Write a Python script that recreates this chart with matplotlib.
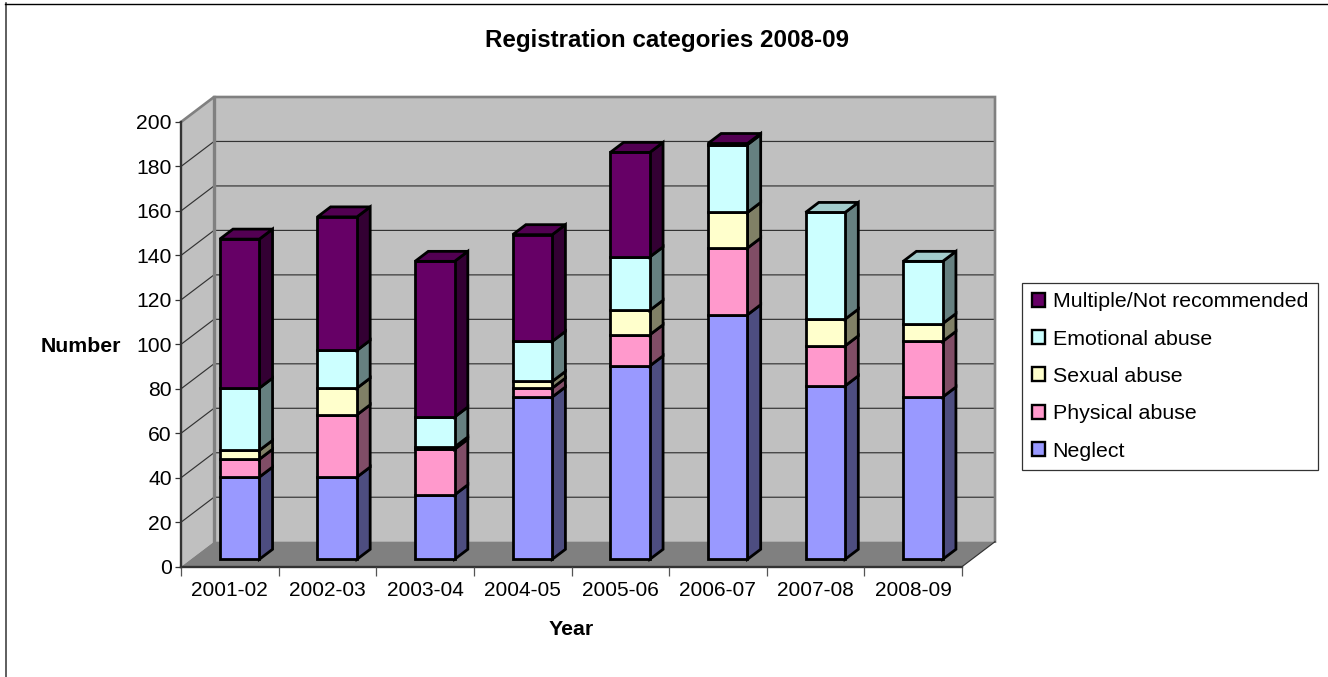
import matplotlib
matplotlib.use("Agg")
import matplotlib.pyplot as plt
from matplotlib.patches import Polygon, Patch
from matplotlib.lines import Line2D

years = ["2001-02", "2002-03", "2003-04", "2004-05", "2005-06", "2006-07", "2007-08", "2008-09"]
neglect = [37, 37, 29, 73, 87, 110, 78, 73]
physical = [8, 28, 20.5, 4, 14, 30, 18, 25]
sexual = [4, 12, 1, 3, 11, 16, 12, 8]
emotional = [28, 17, 13.5, 18, 24, 30.5, 48, 28]
multiple = [67, 60, 70, 48, 47, 0.5, 0, 0]
series_names = ["Neglect", "Physical abuse", "Sexual abuse", "Emotional abuse", "Multiple/Not recommended"]
series_values = [neglect, physical, sexual, emotional, multiple]
face = ["#9999FF", "#FF99CC", "#FFFFCC", "#CCFFFF", "#660066"]
side = ["#4D4D80", "#804D66", "#808066", "#668080", "#330033"]
top = ["#7A7ACC", "#CC7AA3", "#CCCCA3", "#A3CCCC", "#520052"]

W, H, DPI = 1328, 677, 100
plt.rcParams["font.family"] = ["Liberation Sans", "DejaVu Sans"]
fig = plt.figure(figsize=(W / DPI, H / DPI), dpi=DPI)
fig.patch.set_facecolor("white")

# front plane of the 3-D box, in pixels
L, R, B, T = 181, 962, 566.7, 122
ax = fig.add_axes([L / W, 1 - B / H, (R - L) / W, (B - T) / H])
ax.set_xlim(0, len(years))
ax.set_ylim(0, 200)
ax.patch.set_visible(False)

# depth projection: full depth moves 33 px right and 25 px up
ux = 33 / ((R - L) / len(years))
uy = 25 / ((B - T) / 200)


def P(x, y, d=0.0):
    return (x + d * ux, y + d * uy)


def poly(pts, fc, ec="none", lw=0.0, z=1, join="miter"):
    ax.add_patch(Polygon(pts, closed=True, facecolor=fc, edgecolor=ec, linewidth=lw,
                         zorder=z, clip_on=False, joinstyle=join))


n = len(years)
# walls and floor
poly([P(0, 0), P(0, 0, 1), P(0, 200, 1), P(0, 200)], "#C0C0C0", z=1)
poly([P(0, 0, 1), P(n, 0, 1), P(n, 200, 1), P(0, 200, 1)], "#C0C0C0", z=1)
poly([P(0, 0), P(n, 0), P(n, 0, 1), P(0, 0, 1)], "#808080", z=1.2)

grid_vals = list(range(20, 200, 20))
for v in grid_vals:
    ax.plot(*zip(P(0, v), P(0, v, 1), P(n, v, 1)), color="#333333", lw=0.85, zorder=1.1,
            clip_on=False, solid_joinstyle="miter")
ax.plot(*zip(P(0, 200), P(0, 200, 1), P(n, 200, 1), P(n, 0, 1)), color="#808080", lw=1.9,
        zorder=1.3, clip_on=False, solid_joinstyle="miter")
ax.plot(*zip(P(0, 0, 1), P(0, 200, 1)), color="#808080", lw=2.4, zorder=1.3, clip_on=False)
ax.plot(*zip(P(n, 0), P(n, 0, 1)), color="#333333", lw=0.85, zorder=1.3, clip_on=False)

# bars
bar_w = 0.405
d0, d1 = 0.296, 0.696
EC, LW = "black", 2.0
z = 2.0
for i in range(n):
    x0 = i + 0.5 - bar_w / 2
    x1 = i + 0.5 + bar_w / 2
    base = 0.0
    last = 0
    for k, vals in enumerate(series_values):
        v = vals[i]
        if v <= 0:
            continue
        t = base + v
        poly([P(x1, base, d0), P(x1, base, d1), P(x1, t, d1), P(x1, t, d0)], side[k], EC, LW, z)
        poly([P(x0, base, d0), P(x1, base, d0), P(x1, t, d0), P(x0, t, d0)], face[k], EC, LW, z + 0.01)
        z += 0.02
        base = t
        last = k
    poly([P(x0, base, d0), P(x1, base, d0), P(x1, base, d1), P(x0, base, d1)], top[last], EC, LW, z)
    z += 0.02

# axes
for s in ("top", "right"):
    ax.spines[s].set_visible(False)
for s in ("left", "bottom"):
    ax.spines[s].set_color("#333333")
    ax.spines[s].set_linewidth(1.7)
    ax.spines[s].set_zorder(1.5)
ax.set_yticks(range(0, 201, 20))
ax.set_xticks(range(n + 1))
ax.set_xticks([i + 0.5 for i in range(n)], minor=True)
ax.set_xticklabels([])
ax.set_xticklabels(years, minor=True)
ax.tick_params(axis="x", which="major", length=6.5, width=0.9, color="#555555", direction="out")
ax.tick_params(axis="x", which="minor", length=0, pad=10.5, labelsize=15.0, labelcolor="black")
ax.tick_params(axis="y", length=4.5, width=0.9, color="#333333", direction="out", pad=2, labelsize=15.2)

fig.text(667 / W, 1 - 41 / H, "Registration categories 2008-09", ha="center", va="center",
         fontsize=17.4, fontweight="bold")
fig.text(81 / W, 1 - 346 / H, "Number", ha="center", va="center", fontsize=15.3, fontweight="bold")
fig.text(571 / W, 1 - 629.5 / H, "Year", ha="center", va="center", fontsize=15.3, fontweight="bold")

# legend
handles = [Patch(facecolor=face[k], edgecolor="black", linewidth=1.7) for k in range(4, -1, -1)]
labels = [series_names[k] for k in range(4, -1, -1)]
leg = fig.legend(handles, labels, loc="upper left", bbox_to_anchor=(1022 / W, 1 - 282.5 / H),
                 bbox_transform=fig.transFigure, fontsize=15.4, frameon=True, fancybox=False,
                 edgecolor="#333333", facecolor="white", framealpha=1, borderaxespad=0,
                 handlelength=0.62, handleheight=0.62, handletextpad=0.36, labelspacing=0.86,
                 borderpad=0.45)
leg.get_frame().set_linewidth(0.9)

# chart-area border (top and left only)
fig.add_artist(Line2D([5.5 / W, 5.5 / W], [1 - 677 / H, 1 - 3 / H], color="#333333", lw=1.1,
                      transform=fig.transFigure))
fig.add_artist(Line2D([5 / W, 1], [1 - 3.5 / H, 1 - 3.5 / H], color="black", lw=1.0,
                      transform=fig.transFigure))

fig.savefig("out.png", dpi=DPI)
